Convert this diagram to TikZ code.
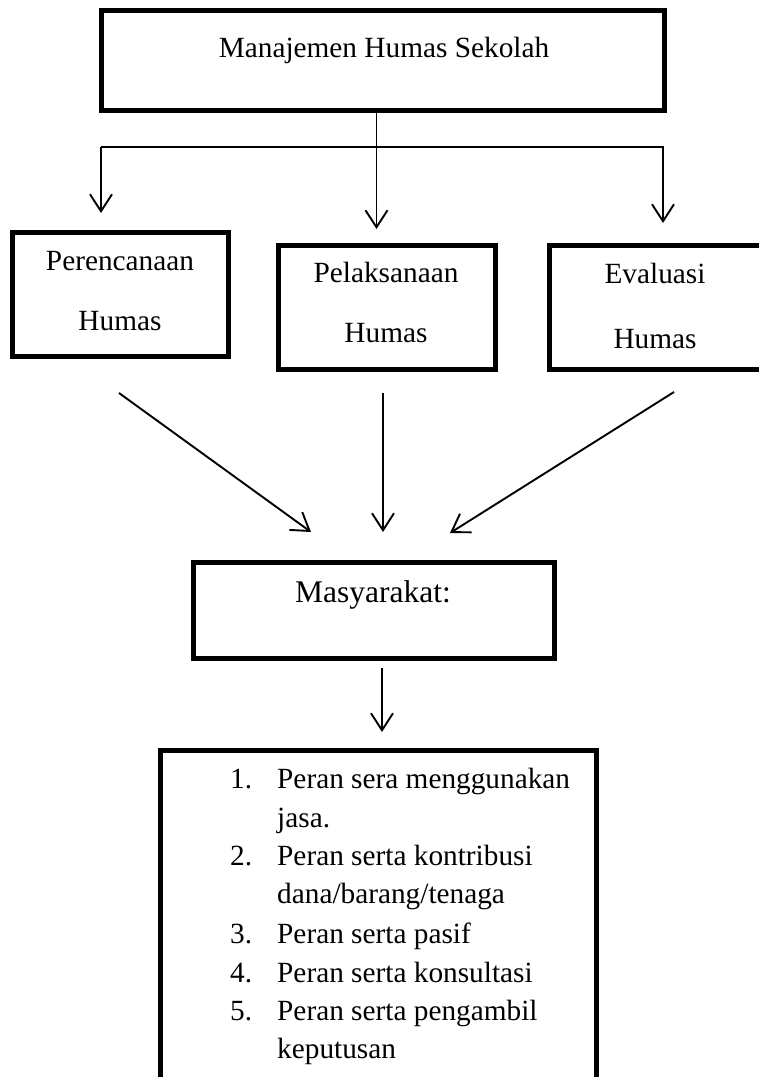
\documentclass[tikz,border=0pt]{standalone}
\usepackage{fontspec}
\setmainfont{Liberation Serif}
\usetikzlibrary{arrows.meta}
\begin{document}
\begin{tikzpicture}[x=1pt,y=-1pt,
  box/.style={draw, line width=5pt, inner sep=0pt, outer sep=0pt, anchor=north west},
  txt/.style={anchor=base, inner sep=0pt, font=\fontsize{29.3}{35}\selectfont},
  bigtxt/.style={anchor=base, inner sep=0pt, font=\fontsize{31.5}{38}\selectfont},
  litem/.style={anchor=base west, inner sep=0pt, font=\fontsize{29.3}{35}\selectfont},
  arr/.style={line width=1.9pt, -{Straight Barb[length=17pt,width=22pt,line width=1.9pt]}},
  thin/.style={line width=1.4pt}
]
\clip (0,0) rectangle (759,1077);
\fill[white] (0,0) rectangle (759,1077);

% boxes
\node[box, minimum width=563pt, minimum height=100pt] (top) at (101,10) {};
\node[box, minimum width=216pt, minimum height=124pt] (plan) at (12,232) {};
\node[box, minimum width=217pt, minimum height=124pt] (exec) at (278,245) {};
\node[box, minimum width=230pt, minimum height=124pt] (eval) at (549,245) {};
\node[box, minimum width=361pt, minimum height=96pt] (mas) at (193,562) {};
\node[box, minimum width=436pt, minimum height=360pt] (list) at (160,750) {};

% texts
\node[txt] (ttop) at (384,57) {Manajemen Humas Sekolah};
\node[txt] (tplan1) at (120,270) {Perencanaan};
\node[txt] (tplan2) at (120,330) {Humas};
\node[txt] (texec1) at (386,282) {Pelaksanaan};
\node[txt] (texec2) at (386,342) {Humas};
\node[txt] (teval1) at (655,283) {Evaluasi};
\node[txt] (teval2) at (655,348) {Humas};
\node[bigtxt] (tmas) at (373,602) {Masyarakat:};

\node[litem] (n1) at (230,788) {1.};
\node[litem] (l1a) at (277,788) {Peran sera menggunakan};
\node[litem] (l1b) at (277,827) {jasa.};
\node[litem] (n2) at (230,865) {2.};
\node[litem] (l2a) at (277,865) {Peran serta kontribusi};
\node[litem] (l2b) at (277,903) {dana/barang/tenaga};
\node[litem] (n3) at (230,943) {3.};
\node[litem] (l3) at (277,943) {Peran serta pasif};
\node[litem] (n4) at (230,982) {4.};
\node[litem] (l4) at (277,982) {Peran serta konsultasi};
\node[litem] (n5) at (230,1020) {5.};
\node[litem] (l5a) at (277,1020) {Peran serta pengambil};
\node[litem] (l5b) at (277,1058) {keputusan};

% tree from top box
\coordinate (hl) at (101,147);
\coordinate (hr) at (664,147);
\coordinate (plantip) at (101,213);
\coordinate (evaltip) at (663,223);
\coordinate (exectip) at (376.5,229);
\draw[thin] (hl) -- (hr);
\draw[arr] ([xshift=-6pt]top.south) -- (exectip);
\draw[arr] (hl) -- (plantip);
\draw[arr] (663,147) -- (evaltip);

% arrows to Masyarakat
\coordinate (d1s) at (119,393);
\coordinate (d1e) at (311,532);
\coordinate (d2s) at (383,393);
\coordinate (d2e) at (383,532);
\coordinate (d3s) at (674,392);
\coordinate (d3e) at (450,533);
\draw[arr] (d1s) -- (d1e);
\draw[arr] (d2s) -- (d2e);
\draw[arr] (d3s) -- (d3e);

% arrow to list
\coordinate (m1) at (382,668);
\coordinate (m2) at (382,732);
\draw[arr] (m1) -- (m2);
\end{tikzpicture}
\end{document}
